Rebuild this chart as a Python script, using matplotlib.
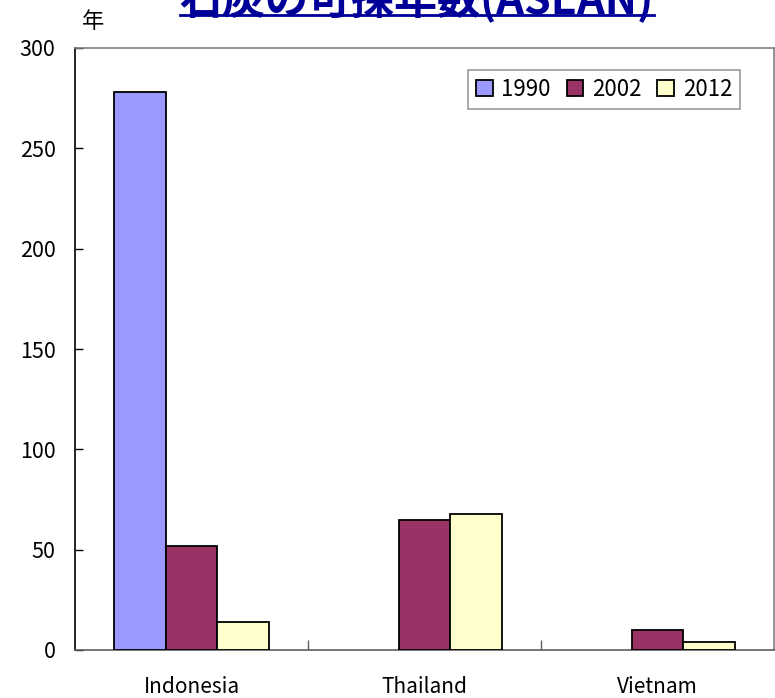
import numpy as np
import matplotlib
matplotlib.use("Agg")
import matplotlib.pyplot as plt
from matplotlib.lines import Line2D

plt.rcParams["font.family"] = ["Noto Sans CJK JP", "DejaVu Sans"]

# -------- data --------
countries = ["Indonesia", "Thailand", "Vietnam"]
years = ["1990", "2002", "2012"]
r_1990 = [278, np.nan, np.nan]
r_2002 = [52, 65, 10]
r_2012 = [14, 68, 4]
colors = ["#9999FF", "#993366", "#FFFFCC"]

fig = plt.figure(figsize=(7.75, 6.98), dpi=100)
ax = fig.add_axes([75 / 775, 1 - 650 / 698, 699 / 775, 602 / 698])

x = np.arange(len(countries))
w = 0.222
for i, (vals, col, lab) in enumerate(zip([r_1990, r_2002, r_2012], colors, years)):
    ax.bar(x + (i - 1) * w, vals, width=w, color=col, edgecolor="black",
           linewidth=1.3, label=lab, zorder=3)

ax.set_xlim(-0.5, len(countries) - 0.5)
ax.set_ylim(0, 300)
ax.set_yticks(range(0, 301, 50))

# category labels centred, ticks on the boundaries
ax.set_xticks(x)
ax.set_xticklabels(countries, fontsize=15)
ax.set_xticks(np.arange(0.5, len(countries) - 0.5), minor=True)
ax.tick_params(axis="x", which="major", length=0, pad=19)
ax.tick_params(axis="x", which="minor", direction="in", length=7, width=1, color="#606060")
ax.tick_params(axis="y", direction="in", length=6, width=1, labelsize=15.5, pad=14)

for s in ["top", "right"]:
    ax.spines[s].set_color("#808080")
ax.spines["bottom"].set_color("#606060")
ax.spines["left"].set_color("black")
for s in ax.spines.values():
    s.set_linewidth(1.2)

leg = ax.legend(loc="upper right", ncol=3, fontsize=16, frameon=True, fancybox=False,
                edgecolor="#808080", handlelength=0.75, handleheight=0.75,
                handletextpad=0.4, columnspacing=0.7, borderpad=0.35, borderaxespad=0,
                bbox_to_anchor=(665 / 699, 580 / 602))
leg.get_frame().set_linewidth(1.2)

fig.text(93 / 775, 1 - 22 / 698, "年", fontsize=16, ha="center", va="center")

# title, mostly above the top edge, underlined
title = fig.text(417 / 775, 1 - 13 / 698, "石炭の可採年数(ASEAN)", fontsize=31,
                 fontweight="bold", color="#000099", ha="center", va="baseline")
fig.canvas.draw()
bb = title.get_window_extent(fig.canvas.get_renderer()).transformed(fig.transFigure.inverted())
fig.add_artist(Line2D([bb.x0, bb.x1], [1 - 15 / 698] * 2, transform=fig.transFigure,
                      color="#000099", linewidth=2))

fig.savefig("out.png", dpi=100)
